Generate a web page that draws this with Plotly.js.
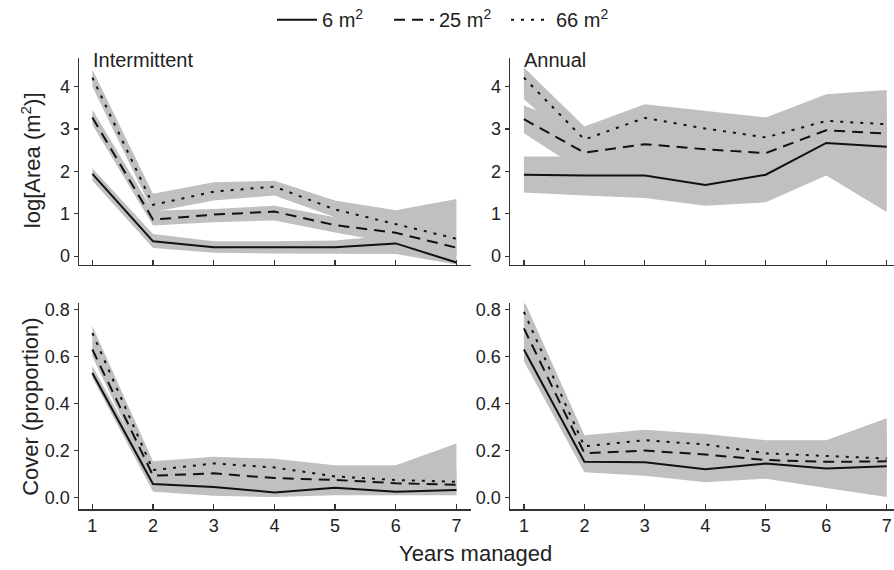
<!DOCTYPE html>
<html>
<head>
<meta charset="utf-8">
<script src="https://cdn.plot.ly/plotly-3.0.1.min.js"></script>
<style>html,body{margin:0;padding:0;background:#fff;}#chart{width:894px;height:570px;}</style>
</head>
<body>
<div id="chart"></div>
<script>
// ---------- data ----------
const years = [1, 2, 3, 4, 5, 6, 7];
const sizeLabels = ['6 m<sup>2</sup>', '25 m<sup>2</sup>', '66 m<sup>2</sup>'];
const panelTitles = ['Intermittent', 'Annual'];

// Intermittent – log area
const intArea6 = [1.94, 0.35, 0.21, 0.21, 0.21, 0.30, -0.15];
const intArea25 = [3.27, 0.86, 0.98, 1.05, 0.73, 0.55, 0.20];
const intArea66 = [4.21, 1.21, 1.52, 1.64, 1.10, 0.76, 0.41];
const intArea6Lo = [1.78, 0.19, 0.08, 0.06, 0.05, 0.05, -0.20];
const intArea6Hi = [2.07, 0.52, 0.35, 0.35, 0.37, 0.50, 0.20];
const intArea25Lo = [3.10, 0.72, 0.80, 0.84, 0.56, 0.30, 0.02];
const intArea25Hi = [3.45, 1.07, 1.11, 1.19, 0.92, 0.80, 0.50];
const intArea66Lo = [4.00, 1.04, 1.31, 1.43, 0.92, 0.55, 0.02];
const intArea66Hi = [4.40, 1.47, 1.74, 1.78, 1.31, 1.08, 1.35];

// Annual – log area
const annArea6 = [1.92, 1.90, 1.90, 1.68, 1.92, 2.67, 2.58];
const annArea25 = [3.23, 2.44, 2.64, 2.52, 2.43, 2.97, 2.89];
const annArea66 = [4.21, 2.75, 3.26, 3.01, 2.80, 3.19, 3.11];
const annArea6Lo = [1.50, 1.43, 1.37, 1.19, 1.27, 1.90, 1.04];
const annArea6Hi = [2.35, 2.35, 2.30, 2.20, 2.40, 3.20, 3.10];
const annArea25Lo = [2.90, 1.98, 2.10, 2.00, 2.00, 2.50, 2.30];
const annArea25Hi = [3.55, 3.00, 3.10, 3.00, 2.90, 3.50, 3.50];
const annArea66Lo = [3.70, 2.45, 2.80, 2.60, 2.40, 2.70, 2.60];
const annArea66Hi = [4.45, 3.06, 3.58, 3.43, 3.27, 3.82, 3.92];

// Intermittent – cover
const intCover6 = [0.53, 0.058, 0.045, 0.022, 0.042, 0.025, 0.032];
const intCover25 = [0.63, 0.093, 0.103, 0.083, 0.075, 0.061, 0.054];
const intCover66 = [0.70, 0.117, 0.145, 0.128, 0.090, 0.075, 0.067];
const intCover6Lo = [0.51, 0.025, 0.008, 0.002, 0.010, 0.010, 0.010];
const intCover6Hi = [0.56, 0.090, 0.090, 0.070, 0.080, 0.070, 0.080];
const intCover25Lo = [0.60, 0.060, 0.060, 0.050, 0.040, 0.030, 0.020];
const intCover25Hi = [0.67, 0.130, 0.140, 0.120, 0.110, 0.100, 0.120];
const intCover66Lo = [0.66, 0.080, 0.100, 0.090, 0.060, 0.040, 0.020];
const intCover66Hi = [0.73, 0.154, 0.174, 0.165, 0.138, 0.138, 0.230];

// Annual – cover
const annCover6 = [0.63, 0.152, 0.150, 0.121, 0.145, 0.124, 0.133];
const annCover25 = [0.72, 0.189, 0.200, 0.183, 0.160, 0.152, 0.154];
const annCover66 = [0.79, 0.218, 0.244, 0.226, 0.188, 0.176, 0.166];
const annCover6Lo = [0.58, 0.108, 0.093, 0.065, 0.080, 0.041, 0.002];
const annCover6Hi = [0.68, 0.200, 0.200, 0.180, 0.200, 0.190, 0.240];
const annCover25Lo = [0.66, 0.150, 0.150, 0.130, 0.120, 0.100, 0.080];
const annCover25Hi = [0.77, 0.240, 0.260, 0.240, 0.220, 0.220, 0.280];
const annCover66Lo = [0.73, 0.170, 0.190, 0.180, 0.150, 0.130, 0.100];
const annCover66Hi = [0.84, 0.265, 0.288, 0.270, 0.244, 0.244, 0.337];

// ---------- build ----------
const FONT = 'Liberation Sans, Arial, Helvetica, sans-serif';
const INK = '#222';
const BAND = '#c0c0c0';
const dashes = ['solid', '11px,7px', '3px,7px'];

const panels = [
  {xa: 'x', ya: 'y', means: [intArea6, intArea25, intArea66],
   lo: [intArea6Lo, intArea25Lo, intArea66Lo], hi: [intArea6Hi, intArea25Hi, intArea66Hi]},
  {xa: 'x2', ya: 'y2', means: [annArea6, annArea25, annArea66],
   lo: [annArea6Lo, annArea25Lo, annArea66Lo], hi: [annArea6Hi, annArea25Hi, annArea66Hi]},
  {xa: 'x3', ya: 'y3', means: [intCover6, intCover25, intCover66],
   lo: [intCover6Lo, intCover25Lo, intCover66Lo], hi: [intCover6Hi, intCover25Hi, intCover66Hi]},
  {xa: 'x4', ya: 'y4', means: [annCover6, annCover25, annCover66],
   lo: [annCover6Lo, annCover25Lo, annCover66Lo], hi: [annCover6Hi, annCover25Hi, annCover66Hi]}
];

const traces = [];
panels.forEach(p => {
  for (let s = 0; s < 3; s++) {
    traces.push({
      type: 'scatter', mode: 'lines', xaxis: p.xa, yaxis: p.ya,
      x: years.concat(years.slice().reverse()),
      y: p.hi[s].concat(p.lo[s].slice().reverse()),
      fill: 'toself', fillcolor: BAND, line: {width: 0, color: BAND},
      showlegend: false, hoverinfo: 'skip'
    });
  }
});
panels.forEach((p, pi) => {
  for (let s = 0; s < 3; s++) {
    traces.push({
      type: 'scatter', mode: 'lines', xaxis: p.xa, yaxis: p.ya,
      x: years, y: p.means[s], name: sizeLabels[s],
      line: {color: '#111', width: 2, dash: dashes[s]},
      showlegend: pi === 0
    });
  }
});

const W = 894, H = 570;
const xdomL = [79 / W, 471 / W], xdomR = [510 / W, 1];
const ydomT = [(H - 263) / H, (H - 55) / H], ydomB = [(H - 509) / H, (H - 302) / H];

function xax(dom, range, labels, anchor) {
  return {domain: dom, range: range, anchor: anchor, tickvals: years, ticktext: years.map(String),
    showticklabels: labels, ticks: 'inside', ticklen: 5, tickwidth: 1.2, tickcolor: '#333',
    showline: true, linecolor: '#333', linewidth: 1.5, showgrid: false, zeroline: false,
    tickfont: {family: FONT, size: 18, color: INK}, fixedrange: true};
}
function yax(dom, range, tv, fmt, anchor) {
  return {domain: dom, range: range, anchor: anchor, tickvals: tv, tickformat: fmt,
    ticks: 'outside', ticklen: 4, tickwidth: 1.2, tickcolor: '#333',
    showline: true, linecolor: '#333', linewidth: 1.5, showgrid: false, zeroline: false,
    tickfont: {family: FONT, size: 18, color: INK}, fixedrange: true};
}

const layout = {
  width: W, height: H,
  margin: {l: 0, r: 0, t: 0, b: 0},
  paper_bgcolor: '#fff', plot_bgcolor: 'rgba(0,0,0,0)',
  font: {family: FONT, color: INK},
  showlegend: true,
  legend: {orientation: 'h', x: 272 / W, xanchor: 'left', y: 1.005, yanchor: 'top',
    font: {family: FONT, size: 20, color: INK}, bgcolor: 'rgba(0,0,0,0)',
    itemwidth: 40, entrywidth: 62, entrywidthmode: 'pixels'},
  xaxis: xax(xdomL, [0.78, 7.24], false, 'y'),
  xaxis2: xax(xdomR, [0.77, 7.12], false, 'y2'),
  xaxis3: xax(xdomL, [0.78, 7.24], true, 'y3'),
  xaxis4: xax(xdomR, [0.77, 7.12], true, 'y4'),
  yaxis: yax(ydomT, [-0.2, 4.68], [0, 1, 2, 3, 4], 'd', 'x'),
  yaxis2: yax(ydomT, [-0.2, 4.68], [0, 1, 2, 3, 4], 'd', 'x2'),
  yaxis3: yax(ydomB, [-0.05, 0.826], [0, 0.2, 0.4, 0.6, 0.8], '.1f', 'x3'),
  yaxis4: yax(ydomB, [-0.05, 0.826], [0, 0.2, 0.4, 0.6, 0.8], '.1f', 'x4'),
  annotations: [
    {text: panelTitles[0], xref: 'paper', yref: 'paper', x: 91 / W, y: 1 - 57 / H,
     xanchor: 'left', yanchor: 'middle', showarrow: false, font: {family: FONT, size: 20, color: INK}},
    {text: panelTitles[1], xref: 'paper', yref: 'paper', x: 522 / W, y: 1 - 57 / H,
     xanchor: 'left', yanchor: 'middle', showarrow: false, font: {family: FONT, size: 20, color: INK}},
    {text: 'log[Area (m<sup>2</sup>)]', xref: 'paper', yref: 'paper', x: 31 / W, y: 1 - 158 / H,
     xanchor: 'center', yanchor: 'middle', textangle: -90, showarrow: false,
     font: {family: FONT, size: 22, color: INK}},
    {text: 'Cover (proportion)', xref: 'paper', yref: 'paper', x: 31 / W, y: 1 - 406 / H,
     xanchor: 'center', yanchor: 'middle', textangle: -90, showarrow: false,
     font: {family: FONT, size: 22, color: INK}},
    {text: 'Years managed', xref: 'paper', yref: 'paper', x: 475 / W, y: 1 - 553 / H,
     xanchor: 'center', yanchor: 'middle', showarrow: false,
     font: {family: FONT, size: 22, color: INK}}
  ]
};

Plotly.newPlot('chart', traces, layout, {displayModeBar: false, staticPlot: true});
</script>
</body>
</html>
